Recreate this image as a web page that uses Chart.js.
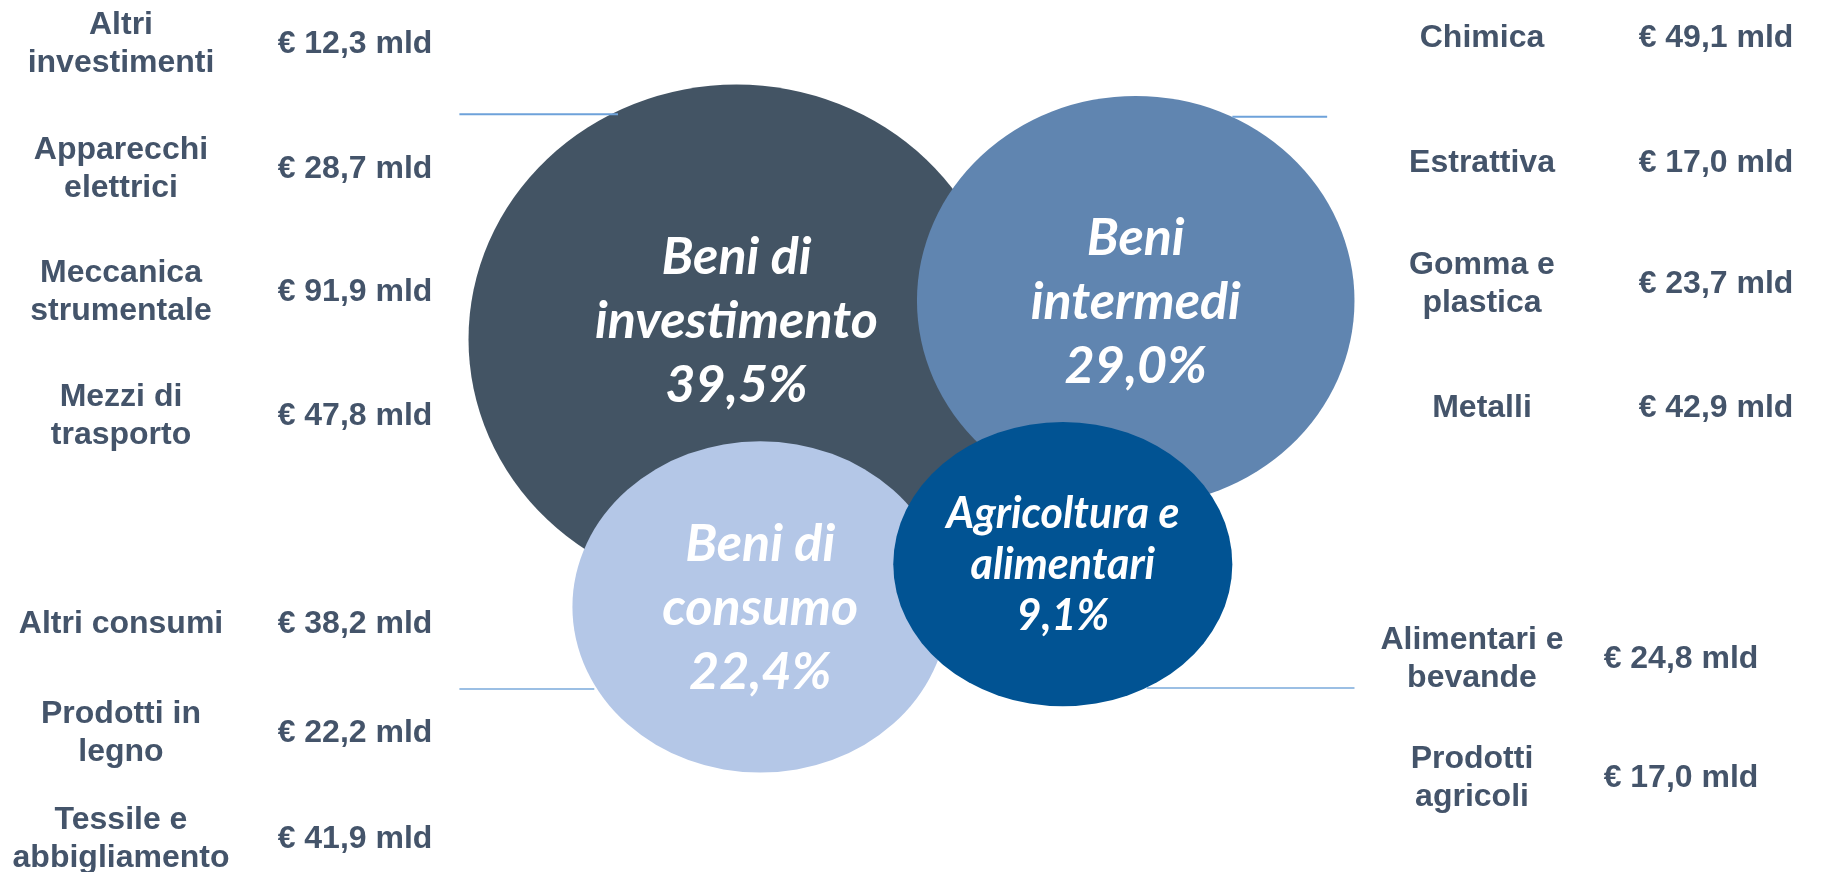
<!DOCTYPE html>
<html>
<head>
<meta charset="utf-8">
<title>Export per raggruppamento</title>
<script src="https://cdn.jsdelivr.net/npm/chart.js@4.4.1/dist/chart.umd.min.js"></script>
<style>
    html, body { margin: 0; padding: 0; background: #ffffff; }
    #wrap { width: 1823px; height: 872px; }
</style>
</head>
<body>
<div id="wrap"><canvas id="bubbleChart" width="1823" height="872"></canvas></div>
<script>
    // groups shown as bubbles
    var groupLabels = ['Beni di\ninvestimento', 'Beni\nintermedi', 'Beni di\nconsumo', 'Agricoltura e\nalimentari'];
    var groupShares = [39.5, 29.0, 22.4, 9.1];

    // bubble centres and half axes, in axis units (0-100 on both axes)
    var bubbleX  = [40.4, 62.3, 41.7, 58.3];
    var bubbleY  = [61.1, 65.5, 30.4, 35.3];
    var bubbleRx = [14.7, 12.0, 10.3, 9.3];
    var bubbleRy = [29.2, 23.5, 19.0, 16.3];

    // sectors, values in billions of euro
    var investSectors = ['Altri\ninvestimenti', 'Apparecchi\nelettrici', 'Meccanica\nstrumentale', 'Mezzi di\ntrasporto'];
    var investValues  = [12.3, 28.7, 91.9, 47.8];
    var intermSectors = ['Chimica', 'Estrattiva', 'Gomma e\nplastica', 'Metalli'];
    var intermValues  = [49.1, 17.0, 23.7, 42.9];
    var consumoSectors = ['Altri consumi', 'Prodotti in\nlegno', 'Tessile e\nabbigliamento'];
    var consumoValues  = [38.2, 22.2, 41.9];
    var agriSectors = ['Alimentari e\nbevande', 'Prodotti\nagricoli'];
    var agriValues  = [24.8, 17.0];

    // thin separator lines (axis units)
    var sepLines = [
        [[25.2, 86.9], [33.9, 86.9]],
        [[67.6, 86.6], [72.8, 86.6]],
        [[25.2, 21.0], [32.6, 21.0]],
        [[62.9, 21.1], [74.3, 21.1]]
    ];

    var bubbleColors = ['#435464', '#6085b0', '#b4c7e7', '#015393'];
    var textColor = '#44546a';

    function fmtMld(v) {
        return '€ ' + v.toFixed(1).replace('.', ',') + ' mld';
    }
    function fmtPct(v) {
        return v.toFixed(1).replace('.', ',') + '%';
    }

    // table blocks around the bubbles
    var tables = [
        { names: investSectors,  values: investValues,  labelX: 121,  valueX: 355,  rows: [42, 167, 290, 414] },
        { names: consumoSectors, values: consumoValues, labelX: 121,  valueX: 355,  rows: [622, 731, 837] },
        { names: intermSectors,  values: intermValues,  labelX: 1482, valueX: 1716, rows: [36, 161, 282, 406] },
        { names: agriSectors,    values: agriValues,    labelX: 1472, valueX: 1681, rows: [657, 776] }
    ];

    var ellipsePlugin = {
        id: 'ellipseBubbles',
        beforeDatasetsDraw: function(chart) {
            var ctx = chart.ctx;
            var xs = chart.scales.x, ys = chart.scales.y;
            var meta = chart.getDatasetMeta(0);
            var pts = [];
            meta.data.forEach(function(pt, i) {
                var rx = Math.abs(xs.getPixelForValue(bubbleX[i] + bubbleRx[i]) - pt.x);
                var ry = Math.abs(ys.getPixelForValue(bubbleY[i] + bubbleRy[i]) - pt.y);
                ctx.save();
                ctx.fillStyle = bubbleColors[i];
                ctx.beginPath();
                ctx.ellipse(pt.x, pt.y, rx, ry, 0, 0, Math.PI * 2);
                ctx.fill();
                ctx.restore();
                pts.push(pt);
            });

            // labels inside bubbles
            var labelShift = [-19, 0, 0, 0];
            pts.forEach(function(pt, i) {
                var small = i === 3;
                var size = small ? 43 : 52;
                var lh = small ? 51 : 64;
                var lines = groupLabels[i].split('\n').concat([fmtPct(groupShares[i])]);
                ctx.save();
                ctx.fillStyle = '#ffffff';
                ctx.font = 'italic bold ' + size + 'px Lato, "Open Sans", sans-serif';
                ctx.textAlign = 'center';
                ctx.textBaseline = 'alphabetic';
                var capMid = size * 0.34;
                var c = pt.y + labelShift[i];
                lines.forEach(function(t, k) {
                    var y = c + (k - (lines.length - 1) / 2) * lh + capMid;
                    ctx.fillText(t, pt.x, y);
                });
                ctx.restore();
            });
        },
        afterDraw: function(chart) {
            var ctx = chart.ctx;
            ctx.save();
            ctx.fillStyle = textColor;
            ctx.font = 'bold 32px "Liberation Sans", Arial, sans-serif';
            ctx.textAlign = 'center';
            ctx.textBaseline = 'alphabetic';
            var capMid = 32 * 0.358;
            tables.forEach(function(tb) {
                tb.names.forEach(function(name, i) {
                    var y = tb.rows[i];
                    var lines = name.split('\n');
                    lines.forEach(function(t, k) {
                        ctx.fillText(t, tb.labelX, y + (k - (lines.length - 1) / 2) * 38 + capMid);
                    });
                    ctx.fillText(fmtMld(tb.values[i]), tb.valueX, y + capMid);
                });
            });
            ctx.restore();
        }
    };

    var datasets = [{
        type: 'bubble',
        label: 'Raggruppamenti',
        data: bubbleX.map(function(x, i) { return { x: x, y: bubbleY[i], r: 0 }; }),
        backgroundColor: 'rgba(0,0,0,0)',
        borderWidth: 0,
        hoverRadius: 0
    }];

    sepLines.forEach(function(seg, i) {
        datasets.push({
            type: 'scatter',
            label: 'sep' + i,
            data: seg.map(function(p) { return { x: p[0], y: p[1] }; }),
            showLine: true,
            borderColor: i < 2 ? '#6ea2da' : '#9bbfe4',
            borderWidth: 2,
            pointRadius: 0,
            fill: false
        });
    });

    new Chart(document.getElementById('bubbleChart').getContext('2d'), {
        type: 'bubble',
        data: { datasets: datasets },
        options: {
            responsive: false,
            animation: false,
            devicePixelRatio: 1,
            events: [],
            layout: { padding: 0, autoPadding: false },
            plugins: { legend: { display: false }, tooltip: { enabled: false } },
            scales: {
                x: { type: 'linear', min: 0, max: 100, display: false },
                y: { type: 'linear', min: 0, max: 100, display: false }
            }
        },
        plugins: [ellipsePlugin]
    });
</script>
</body>
</html>
